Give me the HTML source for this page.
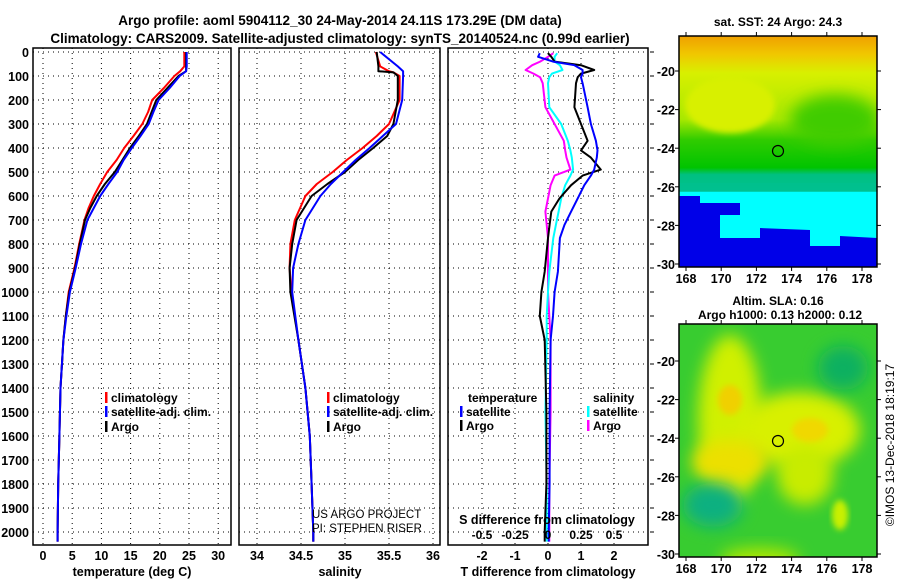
<!DOCTYPE html>
<html><head><meta charset="utf-8"><style>
body{margin:0;background:#fff}
svg{display:block;font-family:"Liberation Sans",sans-serif;font-weight:bold}
</style></head><body>
<svg id="c" width="900" height="580" viewBox="0 0 900 580">
<defs>
<filter id="bl" x="-50%" y="-50%" width="200%" height="200%"><feGaussianBlur stdDeviation="8"/></filter>
<filter id="bl2" x="-20%" y="-20%" width="140%" height="140%"><feGaussianBlur stdDeviation="3"/></filter>
<filter id="bl3" x="-50%" y="-50%" width="200%" height="200%"><feGaussianBlur stdDeviation="12"/></filter>
<clipPath id="m1"><rect x="679" y="36" width="198" height="231"/></clipPath>
<clipPath id="m2"><rect x="679" y="324" width="198" height="233"/></clipPath>
<linearGradient id="sst" x1="0" y1="0" x2="0" y2="1">
<stop offset="0" stop-color="#f0a000"/><stop offset="0.08" stop-color="#f0c800"/><stop offset="0.16" stop-color="#d8f000"/>
<stop offset="0.36" stop-color="#a8e800"/><stop offset="0.45" stop-color="#30cc00"/><stop offset="0.57" stop-color="#00c400"/>
<stop offset="0.6" stop-color="#00c080"/><stop offset="0.67" stop-color="#00c090"/><stop offset="0.675" stop-color="#00ffff"/><stop offset="1" stop-color="#00ffff"/>
</linearGradient>
</defs>
<text x="340" y="25" text-anchor="middle" font-size="13.5">Argo profile: aoml 5904112_30 24-May-2014 24.11S 173.29E (DM data)</text>
<text x="340" y="43" text-anchor="middle" font-size="13.5">Climatology: CARS2009. Satellite-adjusted climatology: synTS_20140524.nc (0.99d earlier)</text>
<g id="g1"></g>
<g id="g2"></g>
<g id="g3"></g>

<g>
<text x="778" y="26" text-anchor="middle" font-size="12">sat. SST: 24 Argo: 24.3</text>
<g clip-path="url(#m1)">
<rect x="679" y="36" width="198" height="231" fill="url(#sst)"/>
<ellipse cx="730" cy="105" rx="45" ry="28" fill="#d8f000" filter="url(#bl2)"/>
<ellipse cx="835" cy="120" rx="45" ry="25" fill="#40cc00" filter="url(#bl)"/>
<polygon points="679,196 700,196 700,203 740,203 740,215 720,215 720,238 760,238 760,228 810,230 810,246 840,246 840,236 877,238 877,267 679,267" fill="#0000e8"/>
<polygon points="679,183 877,183 877,192 679,192" fill="#00c090" opacity="0.6"/>
</g>
<rect x="679" y="36" width="198" height="231" fill="none" stroke="#000" stroke-width="1.5"/>
<circle cx="778" cy="151" r="5.5" fill="none" stroke="#000" stroke-width="1.2"/>
</g>
<g>
<text x="778" y="305" text-anchor="middle" font-size="12">Altim. SLA: 0.16</text>
<text x="780" y="319" text-anchor="middle" font-size="12">Argo h1000: 0.13 h2000: 0.12</text>
<g clip-path="url(#m2)">
<rect x="679" y="324" width="198" height="233" fill="#38cc30"/>
<ellipse cx="730" cy="420" rx="32" ry="85" fill="#d0f000" filter="url(#bl)"/>
<ellipse cx="800" cy="430" rx="60" ry="38" fill="#d8f000" filter="url(#bl)"/>
<ellipse cx="805" cy="475" rx="28" ry="30" fill="#c8ec00" filter="url(#bl)"/>
<ellipse cx="730" cy="462" rx="38" ry="22" fill="#ece000" filter="url(#bl)"/>
<ellipse cx="730" cy="400" rx="12" ry="15" fill="#f0d000" filter="url(#bl2)"/>
<ellipse cx="810" cy="430" rx="18" ry="12" fill="#f0d800" filter="url(#bl2)"/>
<ellipse cx="843" cy="368" rx="25" ry="22" fill="#10b060" filter="url(#bl)"/>
<ellipse cx="713" cy="505" rx="30" ry="22" fill="#10b080" filter="url(#bl)"/>
<ellipse cx="840" cy="515" rx="8" ry="15" fill="#c8f000" filter="url(#bl2)"/>
<ellipse cx="760" cy="560" rx="40" ry="12" fill="#b0e800" filter="url(#bl)"/>
</g>
<rect x="679" y="324" width="198" height="233" fill="none" stroke="#000" stroke-width="1.5"/>
<circle cx="778" cy="441" r="5.5" fill="none" stroke="#000" stroke-width="1.2"/>
</g>
<text transform="translate(894,445) rotate(-90)" text-anchor="middle" font-size="12" font-weight="normal">©IMOS 13-Dec-2018 18:19:17</text>
</svg>
<script>
const NS="http://www.w3.org/2000/svg";
const depthTicks=[0,100,200,300,400,500,600,700,800,900,1000,1100,1200,1300,1400,1500,1600,1700,1800,1900,2000];
const tempTicks=[0,5,10,15,20,25,30];
const salTicks=[34,34.5,35,35.5,36];
const salTickLabels=["34","34.5","35","35.5","36"];
const tdTicks=[-2,-1,0,1,2];
const sdTicks=[-0.5,-0.25,0,0.25,0.5];
const sdTickLabels=["-0.5","-0.25","0","0.25","0.5"];
const mapLons=[168,170,172,174,176,178];
const mapLats=[-20,-22,-24,-26,-28,-30];
// temperature profiles
const tDepth=[0,60,80,100,150,200,250,300,350,400,450,500,550,600,650,700,800,900,1000,1100,1200,1400,1600,1800,2000,2040];
const tArgo=[24.5,24.5,24.5,23.2,21.3,19.4,18.6,17.8,16.4,14.9,13.6,12.3,10.6,9.2,8.1,7.2,6.3,5.5,4.5,3.9,3.5,3.0,2.8,2.6,2.5,2.5];
const tClim=[24.2,24.2,23.5,22.5,20.7,18.7,18.0,17.0,15.5,13.9,12.6,11.0,9.8,8.7,7.8,7.1,6.2,5.4,4.4,3.9,3.5,3.0,2.8,2.6,2.5,2.5];
const tSat=[24.6,24.6,24.5,23.4,21.7,19.8,18.9,18.1,16.7,15.2,13.8,12.7,11.2,9.8,8.7,7.6,6.5,5.6,4.6,4.0,3.5,3.0,2.8,2.6,2.5,2.5];
// salinity profiles
const sDepth=[0,60,80,85,100,200,300,350,400,450,500,550,600,700,800,900,1000,1200,1400,1600,1800,2000,2040];
const sArgo=[35.36,35.38,35.38,35.55,35.6,35.6,35.55,35.48,35.32,35.15,35.0,34.8,34.62,34.45,34.4,34.37,34.38,34.47,34.55,34.6,34.62,34.64,34.64];
const sClim=[35.35,35.4,35.5,35.55,35.62,35.62,35.5,35.36,35.2,35.02,34.86,34.68,34.55,34.43,34.38,34.37,34.39,34.47,34.55,34.6,34.62,34.64,34.64];
const sSat=[35.4,35.6,35.66,35.66,35.66,35.65,35.58,35.43,35.28,35.12,34.98,34.84,34.72,34.55,34.47,34.41,34.4,34.47,34.55,34.6,34.62,34.64,34.64];
// difference profiles
const dDepth=[5,20,40,55,75,90,105,130,230,300,370,410,440,490,515,555,610,665,720,775,915,1000,1100,1200,1500,1800,2000,2040];
const dTArgo=[0,0.1,0.2,1.0,1.4,1.0,0.9,0.85,0.8,1.0,1.2,1.0,1.3,1.6,1.05,0.7,0.35,0.1,0.05,0,-0.1,-0.2,-0.25,-0.1,-0.05,-0.05,-0.1,-0.1];
const dTSat=[-0.25,-0.3,0.15,0.8,1.05,1.05,1.0,1.05,1.2,1.3,1.45,1.5,1.48,1.4,1.3,1.1,0.9,0.7,0.5,0.36,0.3,0.2,0.15,0.08,0.05,0.05,0.02,0.02];
const dSArgo=[0.04,0.0,-0.06,-0.12,-0.17,-0.11,-0.06,-0.04,-0.02,0.05,0.12,0.13,0.14,0.17,0.05,0.02,0,-0.02,-0.01,0,0,0,0.01,0.02,0.02,0.01,0.01,0.01];
const dSSat=[0.07,0.05,0.05,0.09,0.11,0.03,0.01,0,0.01,0.1,0.15,0.17,0.18,0.19,0.17,0.13,0.1,0.08,0.06,0.04,0.01,0,-0.01,-0.01,-0.02,-0.01,-0.01,-0.01];

const svg=document.getElementById('c');
const Y=d=>52+0.24*d;
const PT=48,PB=545;
function el(tag,attrs,parent){const e=document.createElementNS(NS,tag);for(const k in attrs)e.setAttribute(k,attrs[k]);parent.appendChild(e);return e;}
function txt(parent,x,y,s,anchor,size){const t=el('text',{x:x,y:y,'text-anchor':anchor,'font-size':size},parent);t.textContent=s;return t;}
function frame(g,x0,x1,xs,X,leftLabels,rightTicks){
  xs.forEach(v=>{const gl=el('line',{x1:X(v),x2:X(v),y1:PT,y2:PB,stroke:'#000','stroke-width':1,'stroke-dasharray':'1,4'},g);
    
    });
  depthTicks.forEach(d=>{const gl=el('line',{x1:x0,x2:x1,y1:Y(d),y2:Y(d),stroke:'#000','stroke-width':1,'stroke-dasharray':'1,4'},g);
    
    
    if(leftLabels){const t=txt(g,x0-4,Y(d)+5,String(d),'end',12.5);
      
      }
    if(rightTicks){el('line',{x1:x1+2,x2:x1+6,y1:Y(d),y2:Y(d),stroke:'#000'},g);}
  });
  const r=el('rect',{x:x0,y:PT,width:x1-x0,height:PB-PT,fill:'none',stroke:'#000','stroke-width':1.5},g);
  
  
}
function line(g,xs,ds,X,color,name){
  const pts=ds.map((d,i)=>X(xs[i]).toFixed(1)+','+Y(d).toFixed(1)).join(' ');
  const p=el('polyline',{points:pts,fill:'none',stroke:color,'stroke-width':2,'stroke-linejoin':'round'},g);
  
  
}
function legend(g,x,y,color,label){
  el('rect',{x:x,y:y-10,width:2.5,height:11,fill:color},g);
  const t=txt(g,x+6,y,label,'start',12);
  
  
}
// panel 1
const g1=document.getElementById('g1');
const XT=t=>43+5.84*t;
frame(g1,33,231,tempTicks,XT,true,false);
tempTicks.forEach(v=>{const t=txt(g1,XT(v),560,String(v),'middle',12.5);
  
  });
const tt=txt(g1,132,576,'temperature (deg C)','middle',12.5);


line(g1,tClim,tDepth,XT,'#f00','temperature-climatology-line');
line(g1,tArgo,tDepth,XT,'#000','temperature-argo-line');
line(g1,tSat,tDepth,XT,'#00f','temperature-satellite-line');
legend(g1,105,402,'#f00','climatology');legend(g1,105,416,'#00f','satellite-adj. clim.');legend(g1,105,431,'#000','Argo');
// panel 2
const g2=document.getElementById('g2');
const XS=s=>257+88*(s-34);
frame(g2,239,440,salTicks,XS,false,false);
salTicks.forEach((v,i)=>{const t=txt(g2,XS(v),560,salTickLabels[i],'middle',12.5);
  
  });
const st=txt(g2,340,576,'salinity','middle',12.5);


line(g2,sClim,sDepth,XS,'#f00','salinity-climatology-line');
line(g2,sArgo,sDepth,XS,'#000','salinity-argo-line');
line(g2,sSat,sDepth,XS,'#00f','salinity-satellite-line');
legend(g2,327,402,'#f00','climatology');legend(g2,327,416,'#00f','satellite-adj. clim.');legend(g2,327,431,'#000','Argo');
const c1=txt(g2,312,518,'US ARGO PROJECT','start',11.5);c1.setAttribute('font-weight','normal');


const c2=txt(g2,312,532,'PI: STEPHEN RISER','start',11.5);c2.setAttribute('font-weight','normal');


// panel 3
const g3=document.getElementById('g3');
const XD=t=>548+33*t;
const XSD=s=>548+132*s;
frame(g3,448,648,tdTicks,XD,false,true);
tdTicks.forEach(v=>{const t=txt(g3,XD(v),560,String(v),'middle',12.5);
  
  });
const dt=txt(g3,548,576,'T difference from climatology','middle',12.5);


line(g3,dSArgo,dDepth,XSD,'#f0f','sdiff-argo-line');
line(g3,dSSat,dDepth,XSD,'#0ff','sdiff-satellite-line');
line(g3,dTArgo,dDepth,XD,'#000','tdiff-argo-line');
line(g3,dTSat,dDepth,XD,'#00f','tdiff-satellite-line');
const sdt=txt(g3,547,524,'S difference from climatology','middle',12.5);


sdTicks.forEach((v,i)=>{const t=txt(g3,XSD(v),539,sdTickLabels[i],'middle',12);
  
  });
const lt=txt(g3,468,402,'temperature','start',12);

const ls=txt(g3,593,402,'salinity','start',12);

legend(g3,460,416,'#00f','satellite');legend(g3,460,430,'#000','Argo');
legend(g3,587,416,'#0ff','satellite');legend(g3,587,430,'#f0f','Argo');
// map axes
function mapAxes(top,bot,latY,bottomLabels){
  const X=l=>686+17.6*(l-168);
  mapLons.forEach(l=>{el('line',{x1:X(l),x2:X(l),y1:top-4,y2:top,stroke:'#000'},svg);el('line',{x1:X(l),x2:X(l),y1:bot,y2:bot+4,stroke:'#000'},svg);
    if(bottomLabels){const t=txt(svg,X(l),bot+16,String(l),'middle',12.5);
      
      }});
  mapLats.forEach(a=>{const y=latY(a);el('line',{x1:675,x2:679,y1:y,y2:y,stroke:'#000'},svg);el('line',{x1:877,x2:881,y1:y,y2:y,stroke:'#000'},svg);
    const t=txt(svg,675,y+5,String(a),'end',12.5);
    
    });
}
mapAxes(36,267,a=>71+19.3*(-20-a),true);
mapAxes(324,557,a=>361+19.3*(-20-a),true);
</script>
</body></html>
